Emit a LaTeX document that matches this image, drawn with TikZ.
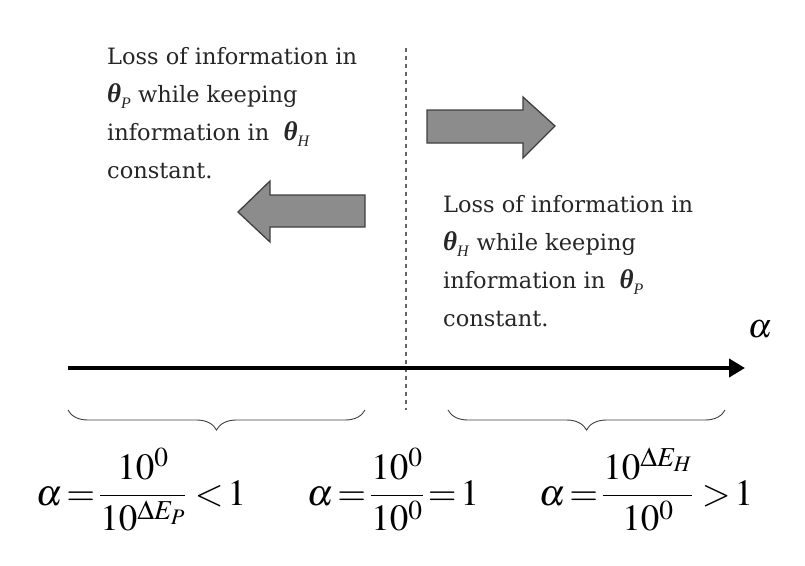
\documentclass[tikz,border=0pt]{standalone}
\usepackage{amsmath}
\usepackage{mathptmx}
\usepackage{fontspec}
\setmainfont{Liberation Serif}
\newfontfamily\notefont{DejaVu Serif}
\newfontfamily\thetafont{Liberation Serif}
\usetikzlibrary{arrows.meta,decorations.pathreplacing}

% bold theta with a small italic subscript
\newcommand{\thb}[1]{{\thetafont\fontsize{27}{38}\selectfont\textbf{\textit{θ}}\raisebox{-0.22em}{\fontsize{16}{16}\selectfont\textit{#1}}}}

\tikzset{
  note/.style={anchor=north west, inner sep=0pt, align=left,
    font=\notefont\fontsize{22.5}{38}\selectfont, text=black!85},
  blockarrow/.style={fill=black!45, draw=black!75, line width=1.3pt, line join=miter},
  formula/.style={anchor=base, inner sep=0pt, font=\fontsize{37}{44}\selectfont},
  axisline/.style={line width=4pt, -{Triangle[length=16pt,width=18pt]}},
  splitline/.style={draw=black!60, line width=1.6pt, dash pattern=on 4pt off 4pt},
  span/.style={draw=black!75, line width=0.9pt,
    decorate, decoration={brace, mirror, amplitude=20pt}}
}

\begin{document}
\begin{tikzpicture}[x=1pt,y=-1pt]
\useasboundingbox (0,0) rectangle (805,565);

% divider at alpha = 1
\coordinate (divtop) at (406,48);
\coordinate (divbot) at (406,410);
\draw[splitline] (divtop) -- (divbot);

% explanatory texts
\node[note] (leftnote) at (107,47)
  {Loss of information in\\ \thb{P} while keeping\\ information in \ \thb{H}\\ constant.};
\node[note] (rightnote) at (443,195)
  {Loss of information in\\ \thb{H} while keeping\\ information in \ \thb{P}\\ constant.};

% block arrows
\draw[blockarrow] (427,110) -- (523,110) -- (523,97) -- (555,126) -- (523,158)
  -- (523,143) -- (427,143) -- cycle;
\draw[blockarrow] (365,195) -- (270,195) -- (270,181) -- (238,212) -- (270,242)
  -- (270,227) -- (365,227) -- cycle;

% alpha axis
\coordinate (axstart) at (68,368);
\coordinate (axend) at (745,368);
\draw[axisline] (axstart) -- (axend);
\node[font=\fontsize{34}{34}\selectfont, inner sep=0pt] (alab) at (760,329) {$\alpha$};

% ranges
\coordinate (lbA) at (68,410);
\coordinate (lbB) at (365,410);
\coordinate (rbA) at (448,410);
\coordinate (rbB) at (725,410);
\draw[span] (lbA) -- (lbB);
\draw[span] (rbA) -- (rbB);

% formulas
\node[formula] (fleft) at (141,505)
  {$\alpha\!=\!\dfrac{10^0}{10^{\Delta E_P}}\;{<}\,1$};
\node[formula] (fmid) at (393,505)
  {$\alpha\!=\!\dfrac{10^0}{10^0}\!=\!1$};
\node[formula] (fright) at (646,505)
  {$\alpha\!=\!\dfrac{10^{\Delta E_H}}{10^0}\;{>}\,1$};
\end{tikzpicture}
\end{document}
